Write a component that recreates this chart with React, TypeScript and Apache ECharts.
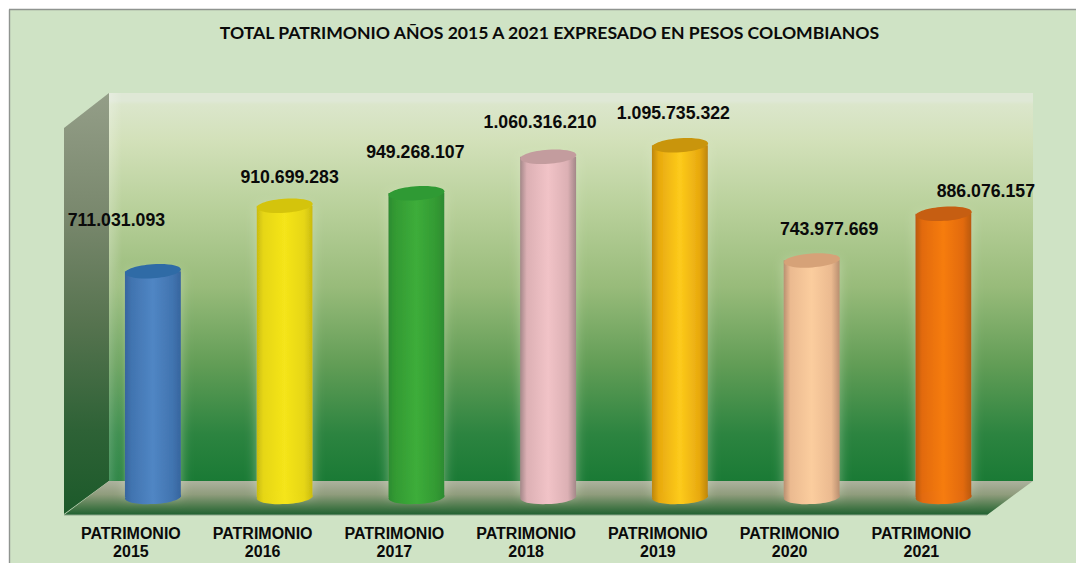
import React, { useEffect, useRef } from "react";
import * as echarts from "echarts";

const titleText = "TOTAL PATRIMONIO AÑOS 2015 A 2021 EXPRESADO EN PESOS COLOMBIANOS";
const categories = [
  "PATRIMONIO\n2015",
  "PATRIMONIO\n2016",
  "PATRIMONIO\n2017",
  "PATRIMONIO\n2018",
  "PATRIMONIO\n2019",
  "PATRIMONIO\n2020",
  "PATRIMONIO\n2021",
];
const values = [711031093, 910699283, 949268107, 1060316210, 1095735322, 743977669, 886076157];
const edgeColors = ["#36659e", "#c9bb10", "#2c8b30", "#a38788", "#bd8608", "#b98f70", "#b9590f"];
const shadeColors = ["#4174b0", "#e6d614", "#339a33", "#dcb0b4", "#e8a90f", "#ebba90", "#e26a10"];
const lightColors = ["#5086c4", "#f5e51a", "#3dad3a", "#f1c3c7", "#fdcb1b", "#fbcd9e", "#f67c10"];
const lidColors = ["#2f6ba6", "#d4c40c", "#2f9a34", "#c39c9e", "#c9950c", "#d6a278", "#c65e12"];
const labelOffsets = [
  [-36.5, -51],
  [5, -29],
  [-1, -41],
  [-8, -35],
  [-6.5, -32],
  [17.5, -31],
  [42.5, -23],
];

const fmt = (v: number) => String(v).replace(/\B(?=(\d{3})+(?!\d))/g, ".");

export default function App() {
  const ref = useRef<HTMLDivElement>(null);
  useEffect(() => {
    document.body.style.margin = "0";
    document.body.style.overflow = "hidden";
    const chart = echarts.init(ref.current!, null, { renderer: "svg" });
    const grad = (x: number, y: number, x2: number, y2: number, stops: [number, string][]) => ({
      type: "linear",
      x,
      y,
      x2,
      y2,
      colorStops: stops.map(([offset, color]) => ({ offset, color })),
    });
    chart.setOption({
      animation: false,
      backgroundColor: "#ffffff",
      graphic: {
        elements: [
          { type: "rect", z: -10, silent: true, shape: { x: 9, y: 9, width: 1067, height: 554 }, style: { fill: "#cfe3c5" } },
          { type: "line", z: -9, silent: true, shape: { x1: 9.5, y1: 9.5, x2: 9.5, y2: 563 }, style: { stroke: "#8f9490", lineWidth: 1.4 } },
          { type: "line", z: -9, silent: true, shape: { x1: 9, y1: 9.5, x2: 1076, y2: 9.5 }, style: { stroke: "#8f9490", lineWidth: 1.4 } },
          {
            type: "rect", z: -8, silent: true,
            shape: { x: 109, y: 93, width: 924, height: 388 },
            style: {
              fill: grad(0, 0, 0, 1, [
                [0, "#dfe8d6"],
                [0.02, "#dfe8d6"],
                [0.03, "#dbe6cb"],
                [0.12, "#d3e1ba"],
                [0.3, "#b8d09a"],
                [0.5, "#98bb7a"],
                [0.7, "#629d56"],
                [0.88, "#2c8440"],
                [1, "#1a7a35"],
              ]),
            },
          },
          {
            type: "rect", z: -7, silent: true,
            shape: { x: 109, y: 93, width: 13, height: 388 },
            style: { fill: grad(0, 0, 1, 0, [[0, "rgba(255,255,255,0.22)"], [1, "rgba(255,255,255,0)"]]) },
          },
          {
            type: "polygon", z: -8, silent: true,
            shape: { points: [[64, 128], [109, 93], [109, 481], [64, 514]] },
            style: {
              fill: grad(0, 0, 0, 1, [
                [0, "#949e88"],
                [0.3, "#78876c"],
                [0.55, "#56734f"],
                [0.8, "#2e6236"],
                [1, "#1c5a2a"],
              ]),
            },
          },
          {
            type: "polygon", z: -8, silent: true,
            shape: { points: [[109, 481], [1033, 481], [987, 515], [64, 515]] },
            style: {
              fill: grad(0, 0, 0, 1, [
                [0, "#adb29e"],
                [0.4, "#8f9c7c"],
                [0.75, "#4c7a4c"],
                [1, "#1f6030"],
              ]),
            },
          },
          { type: "line", z: -7, silent: true, shape: { x1: 64, y1: 515, x2: 987, y2: 515 }, style: { stroke: "#8ba58a", lineWidth: 1 } },
          {
            type: "text", z: 5, silent: true,
            style: {
              text: titleText, x: 549.5, y: 32, align: "center", verticalAlign: "middle",
              font: "700 17.6px Lato", fill: "#0a0a0a",
            },
          },
        ],
      },
      grid: { left: 87, width: 922.25, top: 111, height: 393 },
      xAxis: {
        type: "category",
        data: categories,
        axisLine: { show: false },
        axisTick: { show: false },
        splitLine: { show: false },
        axisLabel: {
          interval: 0,
          margin: 20,
          padding: [0, 44, 0, 0],
          lineHeight: 18.5,
          fontFamily: "Liberation Sans",
          fontWeight: "bold",
          fontSize: 16,
          color: "#0a0a0a",
          align: "center",
        },
      },
      yAxis: { type: "value", min: 0, max: 1200000000, show: false },
      series: [
        {
          type: "custom",
          silent: true,
          encode: { x: 0, y: 1 },
          data: values.map((v, i) => [i, v]),
          renderItem: (_p: any, api: any) => {
            const i = api.value(0) as number;
            const v = api.value(1) as number;
            const [cx, top] = api.coord([i, v]);
            const [, bottom] = api.coord([i, 0]);
            const rx = 28;
            const ry = 7;
            const body = grad(0, 0, 1, 0, [
              [0, edgeColors[i]],
              [0.12, shadeColors[i]],
              [0.5, lightColors[i]],
              [0.85, shadeColors[i]],
              [1, edgeColors[i]],
            ]);
            return {
              type: "group",
              children: [
                {
                  type: "rect",
                  shape: { x: cx - rx, y: top, width: rx * 2, height: bottom - ry - top },
                  style: { fill: body, shadowBlur: 12, shadowColor: "rgba(225,238,205,0.45)" },
                },
                {
                  type: "ellipse",
                  shape: { cx, cy: bottom - ry, rx, ry },
                  originX: cx,
                  originY: bottom - ry,
                  rotation: 0.05,
                  style: { fill: body },
                },
                {
                  type: "ellipse",
                  shape: { cx, cy: top, rx, ry },
                  originX: cx,
                  originY: top,
                  rotation: 0.07,
                  style: { fill: lidColors[i] },
                },
                {
                  type: "text",
                  style: {
                    text: fmt(v),
                    x: cx + labelOffsets[i][0],
                    y: top + labelOffsets[i][1],
                    align: "center",
                    verticalAlign: "middle",
                    font: "bold 17.7px Liberation Sans",
                    fill: "#0a0a0a",
                  },
                },
              ],
            };
          },
        },
      ],
    });
    return () => chart.dispose();
  }, []);
  return <div ref={ref} style={{ position: "fixed", left: 0, top: 0, width: 1076, height: 563 }} />;
}
